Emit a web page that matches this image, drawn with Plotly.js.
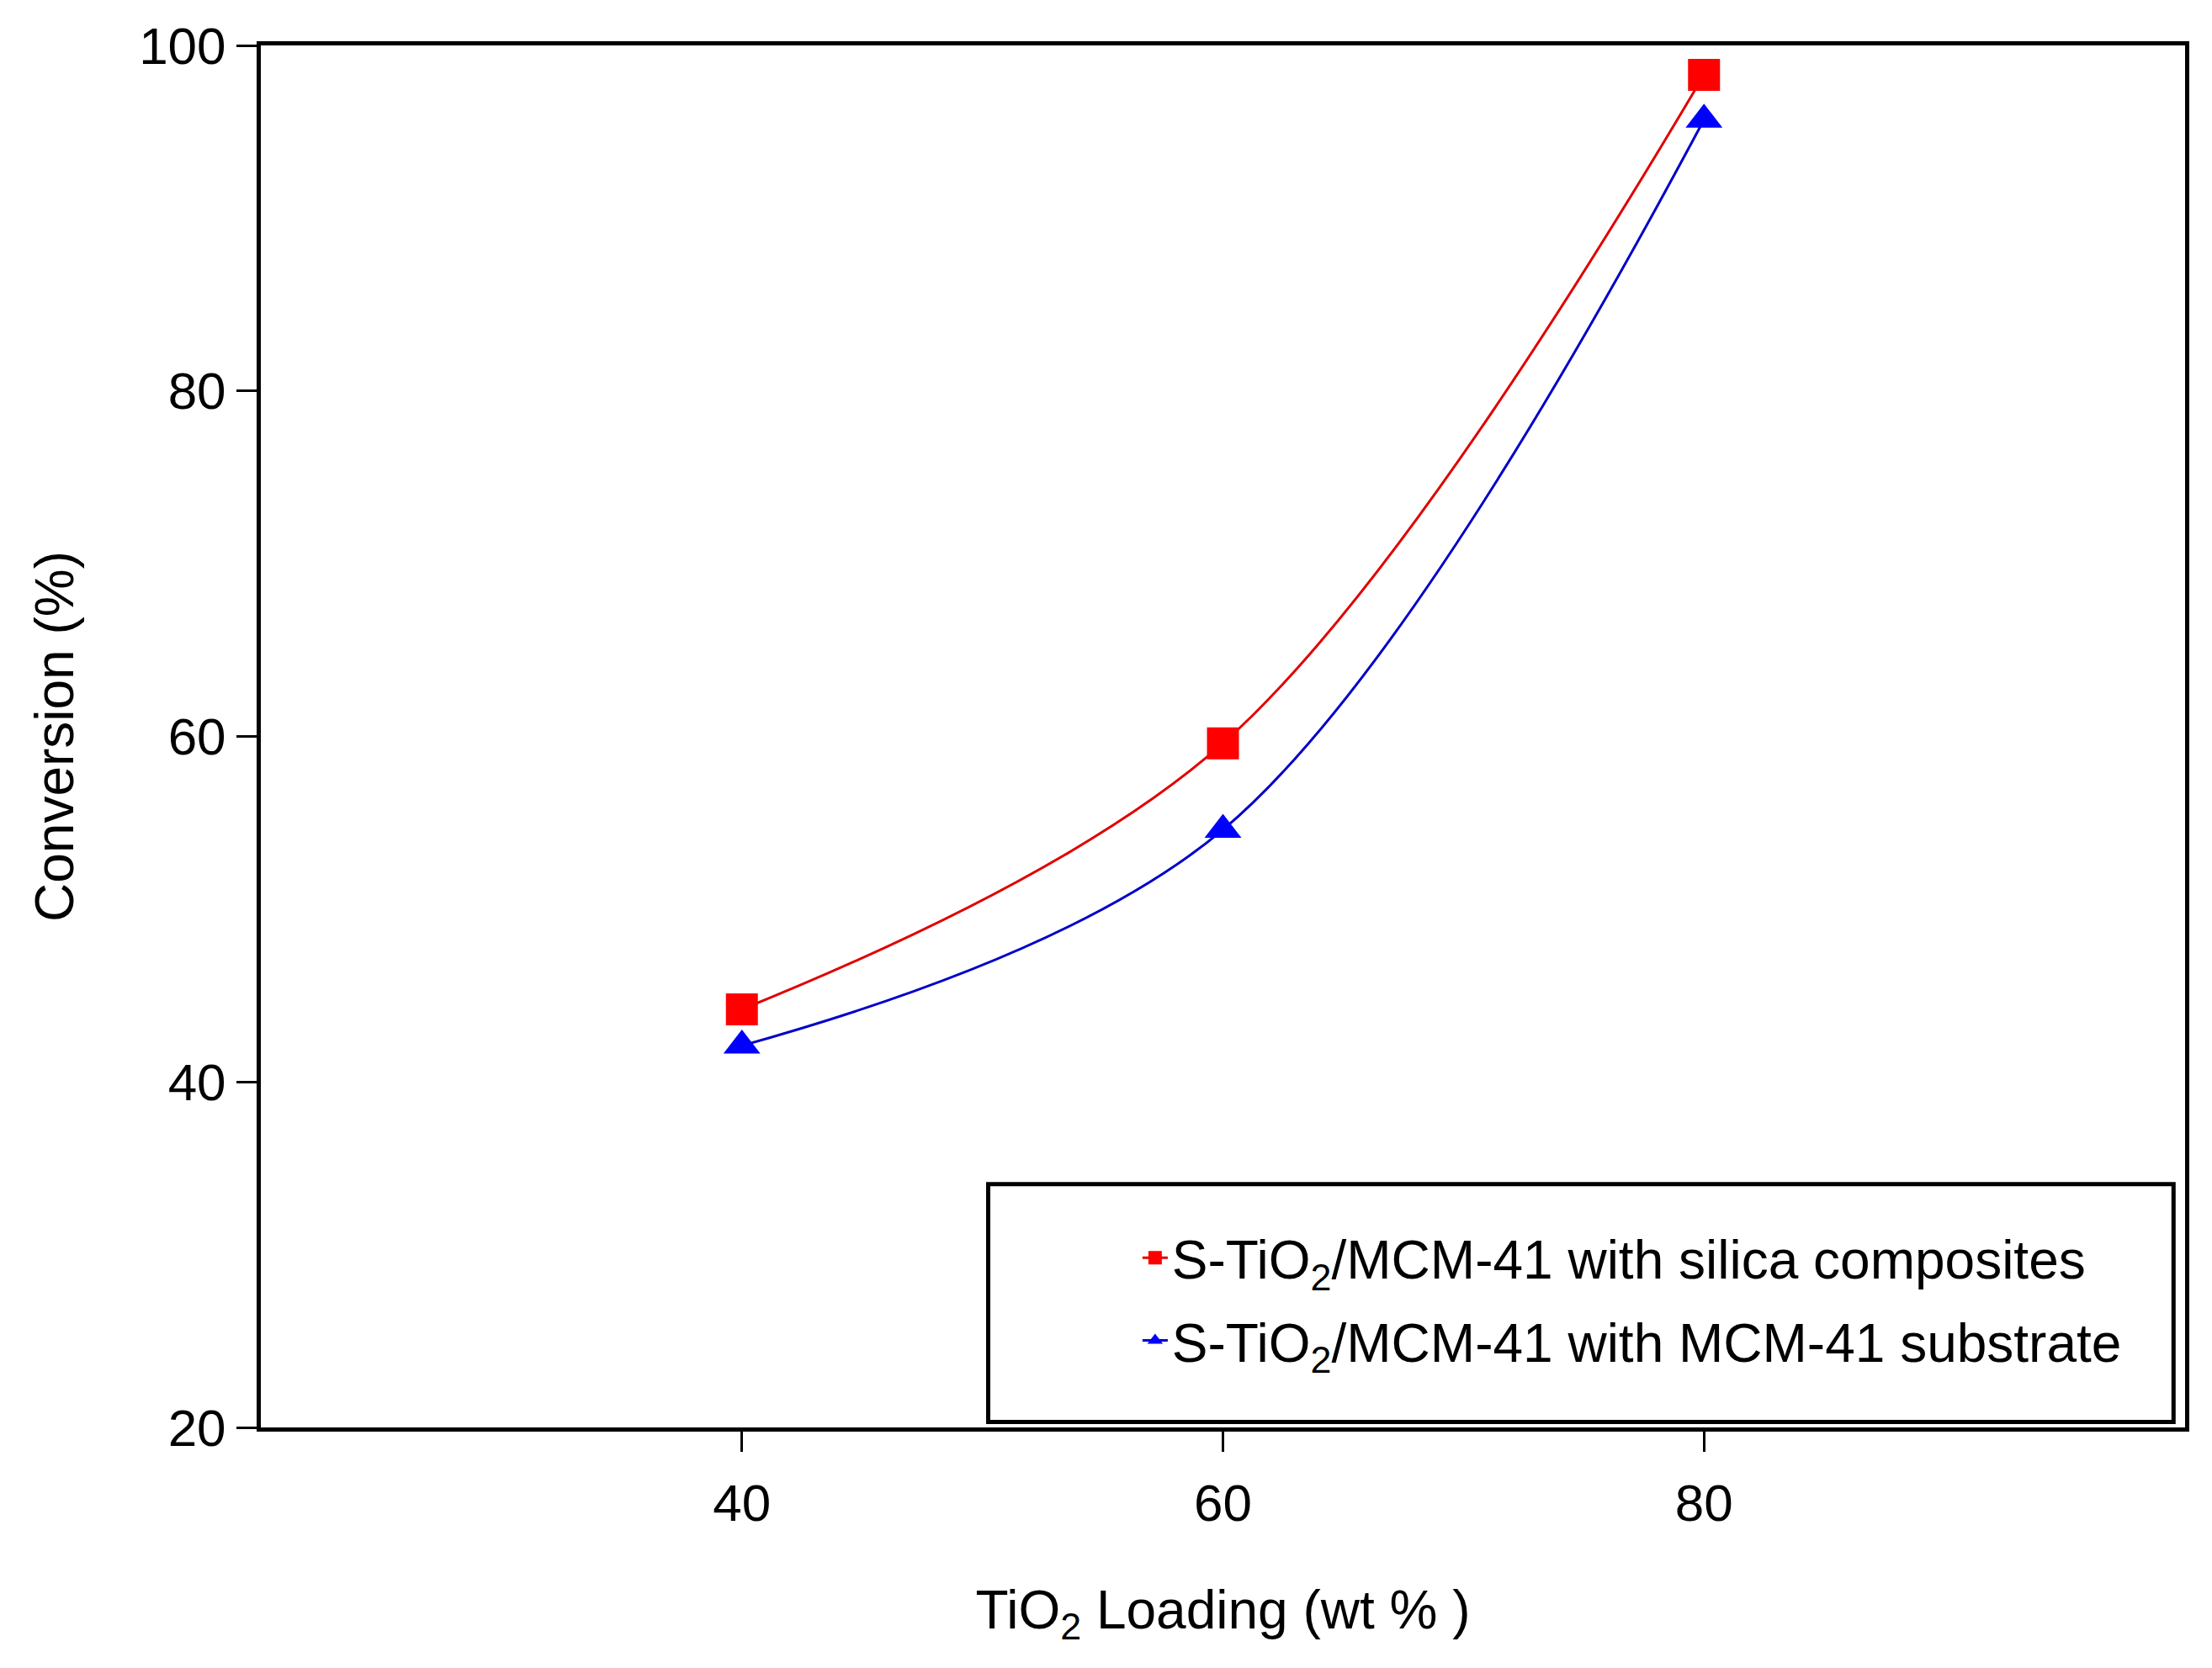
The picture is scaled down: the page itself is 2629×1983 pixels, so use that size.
<!DOCTYPE html>
<html>
<head>
<meta charset="utf-8">
<script src="https://cdn.plot.ly/plotly-3.0.1.min.js"></script>
<style>
  html, body { margin: 0; padding: 0; background: #ffffff; }
  #chart { width: 2629px; height: 1983px; }
</style>
</head>
<body>
<div id="chart"></div>
<script>
// TiO2 loading (wt %)
const loading = [40, 60, 80];
// Conversion (%) values
const silicaComposites = [44.2, 59.6, 98.3];
const mcmSubstrate = [42.1, 54.6, 95.7];
const seriesNames = [
  'S-TiO<sub>2</sub>/MCM-41 with silica composites',
  'S-TiO<sub>2</sub>/MCM-41 with MCM-41 substrate'
];
const xTicks = [40, 60, 80];
const yTicks = [20, 40, 60, 80, 100];

const FONT = 'Liberation Sans, Arial, sans-serif';

const traces = [
  {
    x: loading, y: silicaComposites, name: seriesNames[0],
    type: 'scatter', mode: 'lines+markers',
    line: { color: '#e00000', width: 3, shape: 'spline', smoothing: 1 },
    marker: { symbol: 'square', size: 38, color: '#ff0000' },
    legendgroup: 'a'
  },
  {
    x: loading, y: mcmSubstrate, name: seriesNames[1],
    type: 'scatter', mode: 'lines+markers',
    line: { color: '#0000c8', width: 3, shape: 'spline', smoothing: 1 },
    marker: { symbol: 'triangle-up', size: 38, color: '#0000ff' },
    legendgroup: 'b'
  }
];

const layout = {
  width: 2629, height: 1983,
  margin: { l: 310, r: 32, t: 54, b: 286, pad: 0 },
  paper_bgcolor: '#ffffff', plot_bgcolor: '#ffffff',
  font: { family: FONT, size: 62, color: '#000000' },
  showlegend: true,
  legend: {
    x: 0.456, y: 0.152, xanchor: 'left', yanchor: 'top',
    bgcolor: 'rgba(0,0,0,0)', borderwidth: 0,
    font: { family: FONT, size: 64, color: '#000000' },
    traceorder: 'grouped', tracegroupgap: 12
  },
  xaxis: {
    range: [20, 100], tickvals: xTicks, ticktext: xTicks.map(String),
    ticks: 'outside', ticklen: 24, tickwidth: 3, tickcolor: '#000',
    showline: true, linewidth: 5, linecolor: '#000', mirror: true,
    showgrid: false, zeroline: false,
    tickfont: { family: FONT, size: 62 },
    ticklabelstandoff: 8,
    title: { text: 'TiO<sub>2</sub> Loading (wt % )', font: { family: FONT, size: 64 }, standoff: 72 }
  },
  yaxis: {
    range: [20, 100], tickvals: yTicks, ticktext: yTicks.map(String),
    ticks: 'outside', ticklen: 24, tickwidth: 3, tickcolor: '#000',
    showline: true, linewidth: 5, linecolor: '#000', mirror: true,
    showgrid: false, zeroline: false,
    tickfont: { family: FONT, size: 62 },
    title: { text: 'Conversion (%)', font: { family: FONT, size: 64 }, standoff: 58 }
  },
  shapes: [
    {
      type: 'rect', xref: 'paper', yref: 'paper',
      x0: 0.378, x1: 0.994, y0: 0.004, y1: 0.176,
      line: { color: '#000', width: 5 }, fillcolor: 'rgba(0,0,0,0)', layer: 'above'
    }
  ]
};

Plotly.newPlot('chart', traces, layout, { staticPlot: true, displayModeBar: false });
</script>
</body>
</html>
